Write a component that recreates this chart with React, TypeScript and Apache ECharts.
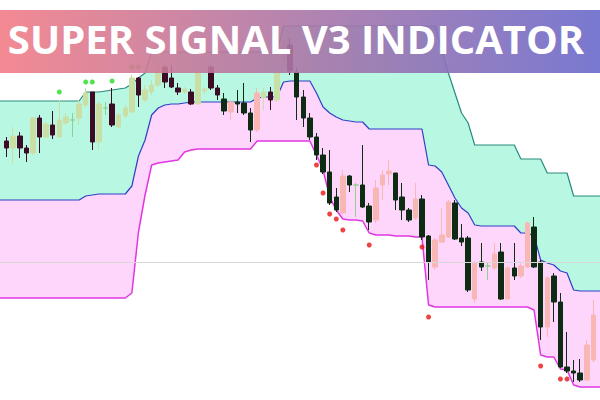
import { useEffect, useRef } from "react";
import * as echarts from "echarts";

// Indicator bands, in points above the chart floor, one value per bar slot (0..91).
const upperBand = [
  299, 299, 299, 299, 299, 299, 299, 299, 299, 299,
  299, 299, 299, 308, 308, 308, 309, 310, 311, 312,
  316, 322, 327, 348, 348, 348, 348, 348, 348, 348,
  348, 348, 348, 348, 348, 348, 348, 348, 348, 348,
  348, 348, 348, 374, 374, 374, 374, 374, 374, 374,
  374, 374, 374, 374, 374, 374, 374, 374, 374, 374,
  374, 374, 374, 374, 374, 374, 374, 350, 327, 307,
  287, 277, 255, 255, 255, 255, 255, 255, 255, 241,
  241, 241, 241, 227, 227, 227, 227, 204, 204, 204,
  204, 204,
];

const midBand = [
  200, 200, 200, 200, 200, 200, 200, 200, 200, 200,
  200, 200, 200, 204, 205, 206, 206, 206, 206, 206,
  214, 244, 260, 285, 292, 295, 296, 296, 297, 298,
  298, 298, 298, 298, 298, 298, 298, 298, 298, 302,
  303, 303, 303, 318, 319, 319, 319, 319, 307, 293,
  287, 283, 280, 279, 278, 278, 271, 271, 271, 271,
  271, 271, 271, 271, 271, 235, 234, 228, 215, 202,
  192, 187, 175, 174, 174, 174, 174, 174, 174, 167,
  167, 164, 140, 137, 135, 129, 127, 110, 109, 109,
  109, 109,
];

const lowerBand = [
  102, 102, 102, 102, 102, 102, 102, 102, 102, 102,
  102, 102, 102, 102, 102, 102, 102, 102, 102, 102,
  107, 168, 205, 235, 237, 238, 239, 240, 248, 250,
  251, 251, 251, 251, 251, 251, 251, 251, 251, 259,
  259, 259, 259, 259, 259, 259, 259, 259, 245, 230,
  203, 190, 181, 180, 180, 179, 167, 165, 165, 165,
  164, 164, 164, 163, 163, 95, 93, 93, 93, 93,
  93, 93, 93, 93, 93, 93, 93, 93, 93, 93,
  93, 90, 45, 43, 43, 31, 30, 15, 13, 13,
  13, 13,
];

// OHLC per bar slot; null slots carry no candle.
const opens = [
  null, 259, 252, 264, 252, 247, 282, 263, 275, 263,
  277, 280, 282, 295, 308, 258, 292, 296, 273, 284,
  288, 322, 300, 308, 315, 333, 322, 312, 308, 308,
  296, 309, 333, 312, 301, 288, 298, 297, 287, 270,
  302, 308, 300, 340, 355, 328, 303, 282, 263, 245,
  228, 203, 187, 224, 215, 215, 194, 180, 215, 226,
  227, 203, 190, 182, 201, 164, 133, 158, 163, 197,
  162, 162, 101, 138, 134, 132, 148, 101, 132, 124,
  133, 173, 138, 73, 124, 98, 33, 29, 27, 20,
  40, null,
];

const closes = [
  null, 252, 264, 252, 247, 282, 263, 276, 265, 280,
  283, 280, 296, 307, 258, 296, 292, 275, 285, 292,
  322, 305, 310, 315, 333, 318, 313, 308, 311, 296,
  327, 311, 312, 305, 289, 298, 296, 287, 270, 307,
  308, 300, 327, 360, 329, 303, 282, 263, 245, 228,
  197, 190, 224, 215, 215, 193, 178, 212, 225, 229,
  200, 190, 180, 201, 163, 138, 160, 165, 198, 161,
  158, 110, 137, 133, 134, 146, 101, 132, 124, 134,
  177, 133, 73, 122, 98, 33, 29, 27, 20, 55,
  85, null,
];

const lows = [
  null, 243, 237, 242, 238, 245, 247, 262, 261, 262,
  275, 263, 275, 292, 250, 250, 285, 273, 272, 282,
  287, 293, 298, 305, 313, 312, 312, 305, 306, 295,
  295, 306, 310, 300, 285, 280, 287, 285, 258, 268,
  290, 290, 298, 334, 325, 280, 273, 260, 240, 226,
  195, 188, 186, 208, 183, 192, 170, 177, 200, 215,
  190, 180, 178, 180, 160, 120, 130, 157, 162, 160,
  154, 108, 97, 129, 120, 130, 100, 100, 120, 122,
  132, 132, 60, 63, 78, 32, 27, 18, 18, 19,
  38, null,
];

const highs = [
  null, 263, 273, 268, 255, 283, 285, 278, 289, 300,
  287, 287, 300, 312, 308, 298, 298, 312, 287, 295,
  325, 323, 315, 320, 338, 335, 335, 317, 313, 311,
  329, 313, 335, 315, 307, 300, 310, 317, 292, 312,
  312, 313, 330, 370, 362, 332, 310, 287, 267, 252,
  250, 212, 230, 225, 217, 255, 197, 220, 230, 240,
  227, 217, 192, 217, 205, 165, 162, 192, 200, 200,
  176, 164, 139, 157, 138, 157, 157, 134, 157, 138,
  178, 183, 140, 124, 127, 107, 68, 40, 41, 60,
  100, null,
];

// Signal dots: bar slot and level.
const greenSignalBars = [9, 13, 14, 17, 20, 21];
const greenSignalLevels = [308, 318, 318, 319, 333, 333];
const redSignalBars = [48, 49, 50, 51, 52, 56, 64, 65, 82, 85, 86];
const redSignalLevels = [235, 207, 186, 181, 170, 155, 153, 83, 34, 21, 21];

const priceLevel = 138;

const AQUA = "#b8f8e2";
const PINK = "#fed6fc";
const UP_BULL = "#cadfa6";
const UP_BEAR = "#3c0c24";
const DOWN_BULL = "#f8b6b4";
const DOWN_BEAR = "#0e2b14";
const DOJI = "#8fd08f";

export default function App() {
  const ref = useRef<HTMLDivElement>(null);

  useEffect(() => {
    const chart = echarts.init(ref.current!, null, { renderer: "svg" });
    const categories = upperBand.map((_, i) => String(i));
    const pinkBand = midBand.map((v, i) => v - lowerBand[i]);
    const greenBand = upperBand.map((v, i) => v - midBand[i]);

    // Candle colour depends on direction and on which side of the mid band the body sits.
    const candles = opens.map((o, i) => {
      const c = closes[i];
      if (o == null || c == null) return { value: ["-", "-", "-", "-"] };
      const above = (o + c) / 2 >= midBand[i];
      const color =
        o === c ? DOJI : c > o ? (above ? UP_BULL : DOWN_BULL) : above ? UP_BEAR : DOWN_BEAR;
      return {
        value: [o, c, lows[i], highs[i]],
        itemStyle: {
          color,
          color0: color,
          borderColor: color,
          borderColor0: color,
          borderColorDoji: color,
        },
      };
    });

    const bandLine = (data: number[], color: string, width: number) => ({
      type: "line",
      data,
      symbol: "none",
      silent: true,
      z: 3,
      lineStyle: { color, width },
    });

    chart.setOption({
      animation: false,
      grid: { left: -2, right: -7.7, top: 0, bottom: 0 },
      xAxis: {
        type: "category",
        data: categories,
        boundaryGap: false,
        show: false,
      },
      yAxis: { type: "value", min: 0, max: 400, show: false, splitLine: { show: false } },
      series: [
        {
          type: "line",
          data: lowerBand,
          stack: "bands",
          symbol: "none",
          silent: true,
          z: 1,
          lineStyle: { width: 0 },
        },
        {
          type: "line",
          data: pinkBand,
          stack: "bands",
          symbol: "none",
          silent: true,
          z: 1,
          lineStyle: { width: 0 },
          areaStyle: { color: PINK, opacity: 1 },
        },
        {
          type: "line",
          data: greenBand,
          stack: "bands",
          symbol: "none",
          silent: true,
          z: 1,
          lineStyle: { width: 0 },
          areaStyle: { color: AQUA, opacity: 1 },
        },
        {
          ...bandLine(midBand, "#2d3fc6", 1.2),
          markLine: {
            silent: true,
            symbol: "none",
            label: { show: false },
            lineStyle: { color: "#d8d8d8", width: 1, type: "solid" },
            data: [{ yAxis: priceLevel }],
          },
        },
        bandLine(upperBand, "#2a8a7e", 1.2),
        bandLine(lowerBand, "#e236e2", 1.5),
        {
          type: "candlestick",
          data: candles,
          barWidth: 5,
          z: 4,
          silent: true,
        },
        {
          type: "scatter",
          data: greenSignalBars.map((b, i) => [b, greenSignalLevels[i]]),
          symbolSize: 5,
          z: 5,
          silent: true,
          itemStyle: { color: "#25dd25" },
        },
        {
          type: "scatter",
          data: redSignalBars.map((b, i) => [b, redSignalLevels[i]]),
          symbolSize: 5,
          z: 5,
          silent: true,
          itemStyle: { color: "#e81414" },
        },
      ],
      graphic: [
        {
          type: "rect",
          z: 100,
          shape: { x: 0, y: 10, width: 600, height: 63 },
          style: {
            fill: new echarts.graphic.LinearGradient(0, 0, 1, 0, [
              { offset: 0, color: "#f27d87" },
              { offset: 0.5, color: "#ab77a7" },
              { offset: 1, color: "#6a6acb" },
            ]),
            opacity: 0.9,
          },
        },
        {
          type: "text",
          z: 101,
          x: 296,
          y: 38,
          style: {
            text: "SUPER SIGNAL V3 INDICATOR",
            fill: "#ffffff",
            fontFamily: "Open Sans",
            fontWeight: "bold",
            fontSize: 40,
            align: "center",
            verticalAlign: "middle",
          },
        },
      ],
    });

    return () => chart.dispose();
  }, []);

  return (
    <div
      ref={ref}
      style={{ position: "absolute", left: 0, top: 0, width: 600, height: 400 }}
    />
  );
}
